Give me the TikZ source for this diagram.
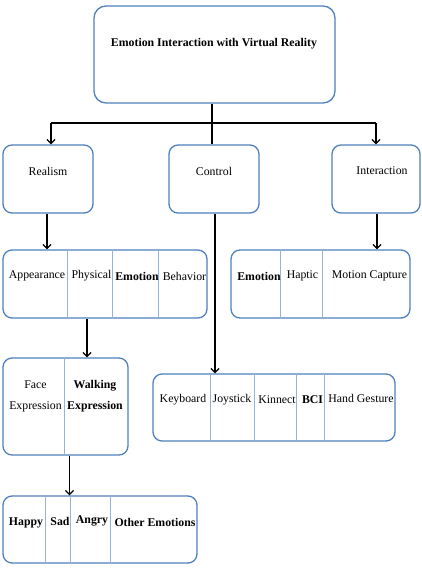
\documentclass[tikz,border=0pt]{standalone}
\usepackage{fontspec}
\setmainfont{Liberation Serif}
\usetikzlibrary{arrows.meta}
\definecolor{boxblue}{HTML}{4F81BD}
\definecolor{divblue}{HTML}{95B3D7}
\begin{document}
\begin{tikzpicture}[x=1pt,y=-1pt,
  box/.style={draw=boxblue, line width=1.3pt, rounded corners=9pt, inner sep=0pt},
  divider/.style={draw=divblue, line width=0.8pt},
  lbl/.style={inner sep=0pt, font=\fontsize{11.8}{14}\selectfont},
  blbl/.style={lbl, font=\fontsize{11.8}{14}\selectfont\bfseries},
  conn/.style={line width=1.3pt, black},
  arr/.style={conn, -{Straight Barb[length=4pt,width=8pt]}}]
\fill[white] (0,0) rectangle (421,584);
\useasboundingbox (0,0) rectangle (421,584);

% top box
\node[box, minimum width=241pt, minimum height=97pt, rounded corners=12pt] (top) at (214.5,54.5) {};
\node[blbl] (toptxt) at (214,44) {Emotion Interaction with Virtual Reality};

% second level
\node[box, minimum width=90pt, minimum height=68pt] (realism) at (48,179) {};
\node[lbl] (realismtxt) at (48,171) {Realism};
\node[box, minimum width=90pt, minimum height=68pt] (control) at (214,179) {};
\node[lbl] (controltxt) at (214,171) {Control};
\node[box, minimum width=88pt, minimum height=68pt] (interaction) at (376,179) {};
\node[lbl] (interactiontxt) at (382,171) {Interaction};

% row 1
\node[box, minimum width=204pt, minimum height=68pt] (row1) at (105,284) {};
\draw[divider] (67,250) -- (67,318) (112,250) -- (112,318) (158,250) -- (158,318);
\node[lbl] (appearance) at (37,276) {Appearance};
\node[lbl] (physical) at (91.5,276) {Physical};
\node[blbl] (emotion1) at (137,276) {Emotion};
\node[lbl] (behavior) at (184.5,276) {Behavior};

% row 2
\node[box, minimum width=179pt, minimum height=68pt] (row2) at (320.5,284) {};
\draw[divider] (280,250) -- (280,318) (322,250) -- (322,318);
\node[blbl] (emotion2) at (259,276) {Emotion};
\node[lbl] (haptic) at (302.5,276) {Haptic};
\node[lbl] (mocap) at (369.5,276) {Motion Capture};

% face box
\node[box, minimum width=125pt, minimum height=97pt] (facebox) at (65.5,406.5) {};
\draw[divider] (64,358) -- (64,455);
\node[lbl, align=center, font=\fontsize{11.8}{21}\selectfont] (face) at (35.5,396) {Face\\Expression};
\node[blbl, align=center, font=\fontsize{11.8}{21}\selectfont\bfseries] (walking) at (95,396) {Walking\\Expression};

% keyboard box
\node[box, minimum width=242pt, minimum height=67pt] (keys) at (274,407.5) {};
\draw[divider] (210,374) -- (210,441) (254,374) -- (254,441) (296,374) -- (296,441) (324,374) -- (324,441);
\node[lbl] (keyboard) at (183,400) {Keyboard};
\node[lbl] (joystick) at (232,400) {Joystick};
\node[lbl] (kinnect) at (277,400) {Kinnect};
\node[blbl] (bci) at (312.5,400) {BCI};
\node[lbl] (hand) at (361,398) {Hand Gesture};

% emotions box
\node[box, minimum width=194pt, minimum height=67pt] (emobox) at (100,529.5) {};
\draw[divider] (45,496) -- (45,563) (70,496) -- (70,563) (110,496) -- (110,563);
\node[blbl] (happy) at (26,523) {Happy};
\node[blbl] (sad) at (60,521) {Sad};
\node[blbl] (angry) at (92,521) {Angry};
\node[blbl] (other) at (155,522) {Other Emotions};

% connectors
\coordinate (junc) at (212,123);
\coordinate (jl) at (51,123);
\coordinate (jr) at (376,123);
\draw[conn] (top.south -| junc) -- (junc);
\draw[conn] (jl) -- (jr);
\draw[arr] (jl) -- (realism.north -| jl);
\draw[arr] (jr) -- (interaction.north -| jr);
\draw[conn] (junc) -- (control.north -| junc);
\coordinate (cx) at (215,0);
\draw[arr] (control.south -| cx) -- (keys.north -| cx);
\coordinate (rx) at (47,0);
\draw[arr] (realism.south -| rx) -- (row1.north -| rx);
\coordinate (ix) at (377,0);
\draw[arr] (interaction.south -| ix) -- (row2.north -| ix);
\coordinate (px) at (87,0);
\draw[arr] (row1.south -| px) -- (facebox.north -| px);
\coordinate (fx) at (69.5,0);
\draw[arr] (facebox.south -| fx) -- (emobox.north -| fx);
\end{tikzpicture}
\end{document}
